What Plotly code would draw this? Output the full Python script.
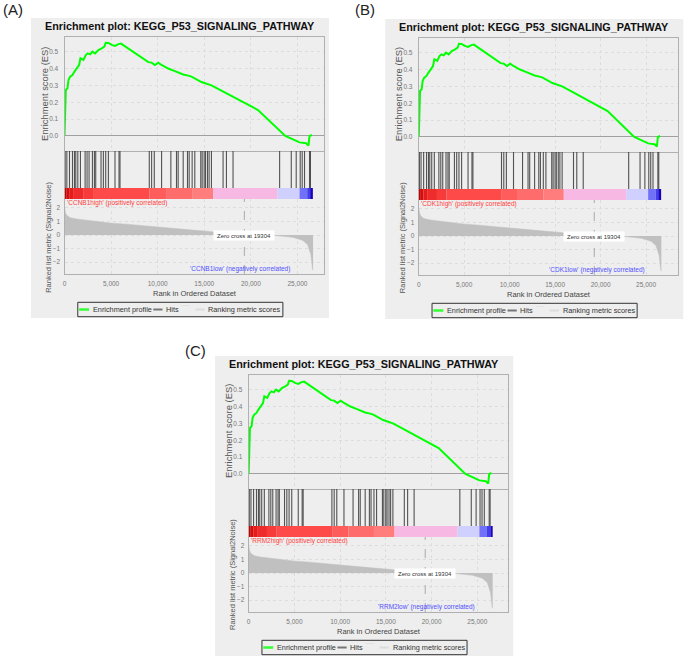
import plotly.graph_objects as go

W, H = 685, 657
FONT = "Liberation Sans, Arial, sans-serif"

# ---------------- data ----------------
title_text = "Enrichment plot: KEGG_P53_SIGNALING_PATHWAY"
panel_labels = ["(A)", "(B)", "(C)"]
phenotypes = ["CCNB1", "CDK1", "RRM2"]
zero_cross = 19304

es_ranks = [0, 68, 139, 318, 425, 603, 853, 1067, 1317, 1567, 1710, 2031, 2281, 2495,
            2745, 2995, 3280, 3637, 3994, 4280, 4422, 4708, 5064, 5421, 5778, 6064,
            9000, 9347, 9700, 10060, 10418, 11132, 11845, 12738, 13273, 13630, 14701,
            15772, 17200, 20770, 23700, 24690, 25230, 25940, 26190, 26300, 26550]
es_values = [0.0, 0.214, 0.273, 0.283, 0.332, 0.352, 0.362, 0.382, 0.401, 0.421, 0.461,
             0.451, 0.480, 0.490, 0.484, 0.500, 0.490, 0.510, 0.520, 0.530, 0.553, 0.552,
             0.540, 0.534, 0.545, 0.548, 0.438, 0.435, 0.421, 0.435, 0.421, 0.400, 0.385,
             0.365, 0.358, 0.352, 0.320, 0.300, 0.258, 0.154, 0.0, -0.024, -0.038,
             -0.043, -0.057, 0.0, 0.006]

hit_ranks = [70, 250, 535, 855, 1070, 1210, 1425, 1710, 2210, 2420, 2635, 2995, 3210,
             3350, 3920, 4170, 4420, 4710, 5420, 5850, 5955, 9100, 9350, 9635, 10420,
             11415, 12020, 12200, 12740, 13200, 13380, 13700, 13985, 14625, 14775,
             14990, 15130, 15345, 15520, 15770, 17020, 17380, 18090, 23090, 24340,
             24870, 25300, 25515, 25765, 26300, 26400]

metric_ranks = [0, 30, 100, 211, 567, 1281, 3066, 4850, 6635, 8420, 10204, 11989,
                13773, 15558, 17500, 19304, 21000, 22696, 24480, 25551, 26086, 26443,
                26621, 26680]
metric_values = [2.05, 1.9, 1.65, 1.48, 1.28, 1.18, 1.02, 0.89, 0.80, 0.68, 0.58, 0.48,
                 0.36, 0.26, 0.13, 0.0, -0.02, -0.04, -0.17, -0.39, -0.70, -1.43,
                 -2.50, -2.60]

bar_edges = [0, 200, 500, 920, 2000, 3060, 9130, 10900, 13700, 15950, 22840, 25230,
             26050, 26480, 26660]
bar_colors = ["#c40000", "#d80c0c", "#e41c1c", "#ee2c2c", "#f73a3a", "#ff4a4a",
              "#ff5c5c", "#ff6c6c", "#ff7d7d", "#f8b8e4", "#d0d0ff", "#7070f8",
              "#4040e8", "#2000b8"]

x_ticks = [0, 5000, 10000, 15000, 20000, 25000]
es_ticks = [0.0, 0.1, 0.2, 0.3, 0.4, 0.5]
metric_ticks = [-2, -1, 0, 1, 2]

# ---------------- layout geometry (pixels) ----------------
panels = [
    dict(left=29, top=18, xmax=27860, lab=(11, 9)),
    dict(left=384.3, top=19, xmax=28550, lab=(364, 9)),
    dict(left=213.7, top=356, xmax=28380, lab=(194, 350)),
]
PX0, PX1 = 33.7, 294.0
ES_Y = (19, 133)
HIT_Y = (133, 170)
BAR_Y = (170, 181)
RANK_Y = (181, 256)


def fx(v):
    return v / W


def fy(v):
    return 1 - v / H


def note(text, x, y, size, color, xanchor="center", angle=0, **kw):
    d = dict(text=text, xref="paper", yref="paper", x=fx(x), y=fy(y), showarrow=False,
             xanchor=xanchor, yanchor="middle", textangle=angle,
             font=dict(family=FONT, size=size, color=color))
    d.update(kw)
    return d


fig = go.Figure()
layout = dict(
    width=W, height=H, margin=dict(l=0, r=0, t=0, b=0, pad=0),
    paper_bgcolor="white", plot_bgcolor="white", showlegend=False,
    barmode="overlay", font=dict(family=FONT),
)
annotations = []
shapes = []

tickfont = dict(family=FONT, size=6.5, color="#777777")
grid = dict(gridcolor="#dddddd", griddash="dot", gridwidth=1)

hx, hy = [], []
for h in hit_ranks:
    hx += [h, h, None]
    hy += [0, 1, None]
widths = [bar_edges[i + 1] - bar_edges[i] for i in range(len(bar_colors))]

for k, p in enumerate(panels):
    L, T = p["left"], p["top"]
    n = [4 * k + i for i in (1, 2, 3, 4)]
    sfx = ["" if m == 1 else str(m) for m in n]
    xdom = [fx(L + PX0), fx(L + PX1)]

    def ydom(r):
        return [fy(T + r[1]), fy(T + r[0])]

    # background panel
    shapes.append(dict(type="rect", xref="paper", yref="paper", layer="below",
                       x0=fx(L), x1=fx(L + 299), y0=fy(T + 300), y1=fy(T),
                       fillcolor="#eeeeee", line=dict(width=0)))

    # ES subplot
    layout["xaxis" + sfx[0]] = dict(domain=xdom, range=[0, p["xmax"]], anchor="y" + sfx[0],
                                    tickvals=x_ticks, showticklabels=False, showgrid=True,
                                    showline=True, mirror=True, linecolor="#b0b0b0",
                                    zeroline=False, **grid)
    layout["yaxis" + sfx[0]] = dict(domain=ydom(ES_Y), range=[-0.089, 0.587],
                                    anchor="x" + sfx[0], tickvals=es_ticks,
                                    tickformat=".1f", tickfont=tickfont,
                                    ticklabelstandoff=4, showline=True, mirror=True,
                                    linecolor="#b0b0b0", zeroline=True,
                                    zerolinecolor="#a0a0a0", zerolinewidth=1, **grid)
    fig.add_trace(go.Scatter(x=es_ranks, y=es_values, mode="lines",
                             line=dict(color="#00ff00", width=2),
                             xaxis="x" + sfx[0], yaxis="y" + sfx[0]))

    # hits subplot
    layout["xaxis" + sfx[1]] = dict(domain=xdom, range=[0, p["xmax"]], anchor="y" + sfx[1],
                                    showticklabels=False, showgrid=False, zeroline=False)
    layout["yaxis" + sfx[1]] = dict(domain=ydom(HIT_Y), range=[0, 1], anchor="x" + sfx[1],
                                    showticklabels=False, showgrid=False, zeroline=False,
                                    showline=True, mirror=True, linecolor="#b0b0b0")
    fig.add_trace(go.Scatter(x=hx, y=hy, mode="lines",
                             line=dict(color="rgba(55,55,55,0.85)", width=1.1),
                             xaxis="x" + sfx[1], yaxis="y" + sfx[1]))

    # colour bar subplot
    layout["xaxis" + sfx[2]] = dict(domain=xdom, range=[0, p["xmax"]], anchor="y" + sfx[2],
                                    showticklabels=False, showgrid=False, zeroline=False)
    layout["yaxis" + sfx[2]] = dict(domain=ydom(BAR_Y), range=[-0.5, 0.5],
                                    anchor="x" + sfx[2], showticklabels=False,
                                    showgrid=False, zeroline=False, showline=True,
                                    mirror=True, linecolor="#b0b0b0")
    fig.add_trace(go.Bar(orientation="h", y=[0] * len(widths), x=widths,
                         base=bar_edges[:-1], width=1,
                         marker=dict(color=bar_colors, line=dict(width=0)),
                         xaxis="x" + sfx[2], yaxis="y" + sfx[2]))

    # ranked list subplot
    layout["xaxis" + sfx[3]] = dict(domain=xdom, range=[0, p["xmax"]], anchor="y" + sfx[3],
                                    tickvals=x_ticks, tickformat=",d", tickfont=tickfont,
                                    ticklabelstandoff=3, showline=True, mirror=False,
                                    linecolor="#b0b0b0", zeroline=False, showgrid=True,
                                    **grid)
    layout["yaxis" + sfx[3]] = dict(domain=ydom(RANK_Y), range=[-2.87, 2.65],
                                    anchor="x" + sfx[3], tickvals=metric_ticks,
                                    tickfont=tickfont, ticklabelstandoff=2,
                                    showline=True, mirror=True, linecolor="#b0b0b0",
                                    zeroline=False, showgrid=True, **grid)
    fig.add_trace(go.Scatter(x=metric_ranks, y=metric_values, mode="lines",
                             fill="tozeroy", fillcolor="#c0c0c0",
                             line=dict(color="#c0c0c0", width=0.5),
                             xaxis="x" + sfx[3], yaxis="y" + sfx[3]))
    shapes.append(dict(type="line", xref="x" + sfx[3], yref="y" + sfx[3] + " domain",
                       x0=zero_cross, x1=zero_cross, y0=0, y1=1, layer="above",
                       line=dict(color="#aaaaaa", width=1, dash="dash")))

    # texts
    annotations += [
        note(panel_labels[k], p["lab"][0], p["lab"][1], 15, "#222222"),
        note("<b>" + title_text + "</b>", L + 149.5, T + 8, 10.8, "#111111"),
        note("Enrichment score (ES)", L + 13.5, T + 75.5, 9.4, "#555555", angle=-90),
        note("Ranked list metric (Signal2Noise)", L + 17, T + 219, 7.5, "#555555",
             angle=-90),
        note("Rank in Ordered Dataset", L + 164.5, T + 275, 7.5, "#444444"),
        note("'" + phenotypes[k] + "high' (positively correlated)", L + 34.3, T + 185,
             6.5, "#ff4040", xanchor="left"),
        note("'" + phenotypes[k] + "low' (negatively correlated)", L + 262.3, T + 251,
             6.5, "#5050ff", xanchor="right"),
        dict(text="Zero cross at " + str(zero_cross), xref="x" + sfx[3], yref="y" + sfx[3],
             x=zero_cross, y=-0.05, xanchor="center", yanchor="middle", showarrow=False,
             bgcolor="white", width=60, height=9, borderpad=0,
             font=dict(family=FONT, size=6, color="#333333")),
    ]

    # legend box
    ly = T + 291.5
    shapes += [
        dict(type="rect", xref="paper", yref="paper", x0=fx(L + 47), x1=fx(L + 252.7),
             y0=fy(T + 298.7), y1=fy(T + 284.3), line=dict(color="#333333", width=1)),
        dict(type="line", xref="paper", yref="paper", x0=fx(L + 48.3), x1=fx(L + 58.3),
             y0=fy(ly), y1=fy(ly), line=dict(color="#33ff33", width=2.5)),
        dict(type="line", xref="paper", yref="paper", x0=fx(L + 122.7), x1=fx(L + 132),
             y0=fy(ly), y1=fy(ly), line=dict(color="#777777", width=2)),
        dict(type="line", xref="paper", yref="paper", x0=fx(L + 151), x1=fx(L + 159),
             y0=fy(ly - 4), y1=fy(ly - 4), line=dict(color="#e2e2e2", width=1)),
        dict(type="line", xref="paper", yref="paper", x0=fx(L + 165), x1=fx(L + 174.3),
             y0=fy(ly), y1=fy(ly), line=dict(color="#dcdcdc", width=2)),
    ]
    annotations += [
        note("Enrichment profile", L + 60, ly, 7.3, "#333333", xanchor="left"),
        note("Hits", L + 133.7, ly, 7.3, "#333333", xanchor="left"),
        note("Ranking metric scores", L + 176, ly, 7.3, "#333333", xanchor="left"),
    ]

layout["annotations"] = annotations
layout["shapes"] = shapes
fig.update_layout(**layout)
fig.write_html("out.html", config={"displayModeBar": False},
               post_script="document.body.style.margin='0';"
                           "document.body.style.overflow='hidden';")
